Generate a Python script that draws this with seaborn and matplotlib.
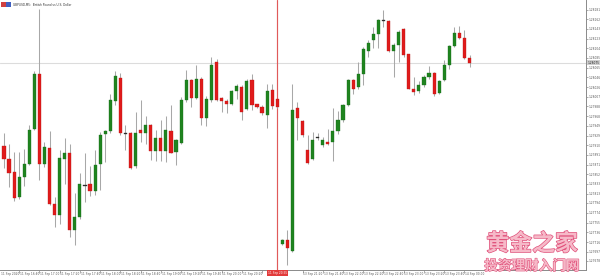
import numpy as np
import pandas as pd
import matplotlib
matplotlib.use("Agg")
import matplotlib.pyplot as plt
import matplotlib.patheffects as pe
from matplotlib.patches import Rectangle
import seaborn as sns

# ---------------- data (GBPUSD M5) ----------------
opens = [1.27908, 1.27883, 1.27855, 1.27807, 1.27847, 1.27872, 1.27942, 1.28053, 1.27873, 1.27905,
         1.27793, 1.27770, 1.27883, 1.27895, 1.27740, 1.27767, 1.27829, 1.27833, 1.27818, 1.27872,
         1.27932, 1.27938, 1.27999, 1.28045, 1.27934, 1.27933, 1.27868, 1.27940, 1.27935, 1.27951,
         1.27899, 1.27923, 1.27899, 1.27939, 1.27897, 1.27915, 1.28001, 1.28040, 1.28005, 1.28043,
         1.27965, 1.28000, 1.28075, 1.28005, 1.27997, 1.27992, 1.28019, 1.28027, 1.27982, 1.28040,
         1.27991, 1.27987, 1.27971, 1.28020, 1.28001,
         1.27713, 1.27721, 1.27698, 1.27985, 1.27958, 1.27900, 1.27882, 1.27925, 1.27911, 1.27917,
         1.27917, 1.27938, 1.27960, 1.27990, 1.28040, 1.28027, 1.28053, 1.28099, 1.28120, 1.28132,
         1.28160, 1.28159, 1.28099, 1.28111, 1.28142, 1.28092, 1.28023, 1.28018, 1.28030, 1.28047,
         1.28055, 1.28015, 1.28040, 1.28070, 1.28109, 1.28135, 1.28125, 1.28085]
highs = [1.27935, 1.27913, 1.27897, 1.27897, 1.27903, 1.27950, 1.28058, 1.28182, 1.27917, 1.27939,
         1.27807, 1.27900, 1.27925, 1.27912, 1.27815, 1.27855, 1.27895, 1.27869, 1.27900, 1.27937,
         1.27941, 1.28013, 1.28058, 1.28055, 1.27950, 1.27937, 1.27977, 1.28001, 1.27968, 1.27953,
         1.27940, 1.27960, 1.27968, 1.27990, 1.27923, 1.28007, 1.28060, 1.28043, 1.28070, 1.28047,
         1.28008, 1.28087, 1.28083, 1.28007, 1.28003, 1.28021, 1.28032, 1.28030, 1.28043, 1.28053,
         1.27993, 1.27990, 1.28033, 1.28033, 1.28003,
         1.27723, 1.27740, 1.28033, 1.27997, 1.27960, 1.27931, 1.27937, 1.27935, 1.27927, 1.27943,
         1.27985, 1.27978, 1.27993, 1.28043, 1.28043, 1.28077, 1.28107, 1.28120, 1.28147, 1.28163,
         1.28180, 1.28160, 1.28115, 1.28140, 1.28145, 1.28093, 1.28047, 1.28038, 1.28050, 1.28068,
         1.28057, 1.28040, 1.28080, 1.28111, 1.28147, 1.28149, 1.28140, 1.28090]
lows = [1.27865, 1.27827, 1.27799, 1.27803, 1.27828, 1.27870, 1.27940, 1.27841, 1.27867, 1.27790,
        1.27747, 1.27753, 1.27833, 1.27727, 1.27710, 1.27763, 1.27797, 1.27809, 1.27810, 1.27820,
        1.27877, 1.27935, 1.27990, 1.27930, 1.27900, 1.27863, 1.27865, 1.27917, 1.27913, 1.27880,
        1.27879, 1.27879, 1.27877, 1.27894, 1.27870, 1.27913, 1.27997, 1.27987, 1.28003, 1.27950,
        1.27948, 1.27997, 1.27999, 1.27977, 1.27975, 1.27990, 1.28003, 1.27960, 1.27980, 1.27980,
        1.27985, 1.27970, 1.27945, 1.27983, 1.27985,
        1.27710, 1.27671, 1.27697, 1.27920, 1.27927, 1.27873, 1.27880, 1.27920, 1.27907, 1.27911,
        1.27878, 1.27933, 1.27957, 1.27989, 1.28013, 1.28023, 1.28030, 1.28087, 1.28105, 1.28105,
        1.28147, 1.28097, 1.28047, 1.28077, 1.28087, 1.28022, 1.28010, 1.28015, 1.28027, 1.28043,
        1.28009, 1.28013, 1.28038, 1.28063, 1.28107, 1.28123, 1.28083, 1.28067]
closes = [1.27883, 1.27855, 1.27805, 1.27845, 1.27872, 1.27940, 1.28053, 1.27872, 1.27907, 1.27793,
          1.27770, 1.27885, 1.27895, 1.27740, 1.27767, 1.27833, 1.27828, 1.27819, 1.27870, 1.27930,
          1.27938, 1.28000, 1.28048, 1.27935, 1.27933, 1.27865, 1.27935, 1.27935, 1.27950, 1.27899,
          1.27923, 1.27899, 1.27940, 1.27895, 1.27920, 1.28000, 1.28040, 1.28005, 1.28042, 1.27965,
          1.28003, 1.28071, 1.28000, 1.27998, 1.27993, 1.28019, 1.28028, 1.27977, 1.28038, 1.27990,
          1.27987, 1.27975, 1.28018, 1.27988, 1.27987,
          1.27720, 1.27705, 1.27981, 1.27965, 1.27930, 1.27875, 1.27921, 1.27925, 1.27920, 1.27913,
          1.27938, 1.27960, 1.27990, 1.28040, 1.28023, 1.28053, 1.28103, 1.28115, 1.28132, 1.28160,
          1.28159, 1.28098, 1.28110, 1.28137, 1.28090, 1.28023, 1.28017, 1.28031, 1.28047, 1.28055,
          1.28013, 1.28038, 1.28071, 1.28109, 1.28135, 1.28125, 1.28085, 1.28075]

friday_start = "2020-09-11 16:25"
friday_bars = 55
sunday_start = "2020-09-13 21:00"

price_ticks = [1.28181, 1.28162, 1.28143, 1.28123, 1.28104, 1.28085, 1.28065, 1.28046, 1.28026,
               1.28007, 1.27988, 1.27968, 1.27949, 1.27929, 1.27910, 1.27891, 1.27871, 1.27852,
               1.27833, 1.27813, 1.27794, 1.27774, 1.27755, 1.27736, 1.27716, 1.27697, 1.27678]

title = "GBPUSD,M5:  British Pound vs U.S. Dollar"
marker_label = "11 Sep 20:55"
watermark1 = "黄金之家"
watermark2 = "投资理财入门网"

# ---------------- frame ----------------
n = len(opens)
times = list(pd.date_range(friday_start, periods=friday_bars, freq="5min")) + \
        list(pd.date_range(sunday_start, periods=n - friday_bars, freq="5min"))
df = pd.DataFrame({"t": times, "open": opens, "high": highs, "low": lows, "close": closes})
df["x"] = np.arange(n)

sns.set_theme(style="white")
plt.rcParams["font.family"] = ["DejaVu Sans", "Noto Sans CJK SC"]

W, H = 600, 277
fig = plt.figure(figsize=(W / 100, H / 100), dpi=100)
fig.patch.set_facecolor("white")
ax_l, ax_r, ax_top, ax_bot = 0, 586, 0, 270
ax = fig.add_axes([ax_l / W, 1 - ax_bot / H, (ax_r - ax_l) / W, (ax_bot - ax_top) / H])
ax.set_facecolor("white")

bar_px = 5.06
x0_px = 4
ax.set_xlim((ax_l - x0_px) / bar_px, (ax_r - x0_px) / bar_px)
ax.set_ylim(1.28200 - 0.00002 * ax_bot, 1.28200)

body = (df["close"] - df["open"]).abs()
doji = body < 0.000015
up = df["close"] >= df["open"]
colors = np.where(doji, "#2b2b2b", np.where(up, "#1f841f", "#e01b1b"))
edges = np.where(doji, "#2b2b2b", np.where(up, "#156a18", "#b81414"))

ax.vlines(df["x"], df["low"], df["high"], color="#a8a8a8", lw=0.75, zorder=1)
ax.bar(df["x"], np.maximum(body, 0.000014), bottom=np.minimum(df["open"], df["close"]),
       width=0.62, color=colors, edgecolor=edges, linewidth=0.25, zorder=2)

# current price line
last = df["close"].iloc[-1]
ax.axhline(last, color="#dcdcdc", lw=0.8, zorder=0)
# vertical marker line
mark_x = friday_bars - 1
ax.axvline(mark_x, color="#e05a5a", lw=0.85, zorder=0.5)

# axes styling
for s in ["left", "top"]:
    ax.spines[s].set_visible(False)
for s in ["right", "bottom"]:
    ax.spines[s].set_color("#8a8a8a")
    ax.spines[s].set_linewidth(0.7)

ax.yaxis.tick_right()
ax.set_yticks(price_ticks)
ax.set_yticklabels([f"{v:.5f}" for v in price_ticks])
ax.tick_params(axis="y", which="both", direction="out", length=1.5, width=0.5,
               colors="#8a8a8a", labelcolor="#555555", labelsize=2.1, pad=0.6, right=True)

# x axis labels every 4 bars (those hidden under the marker label are skipped)
lab_idx = list(range(3, n, 4))
ax.set_xticks(lab_idx)
ax.set_xticklabels([])
ax.tick_params(axis="x", direction="out", length=2, width=0.5, colors="#8a8a8a", bottom=True)
trans = ax.get_xaxis_transform()
for i in lab_idx:
    if abs(i - mark_x) <= 4 and i != mark_x:
        continue
    t = df["t"].iloc[i]
    ax.text(i + 0.15, -0.006, t.strftime("%d Sep %H:%M").lstrip("0"), transform=trans,
            ha="left", va="top", fontsize=2.1, color="#555555", clip_on=False)
ax.text(ax.get_xlim()[0] + 0.2, -0.006, df["t"].iloc[0].strftime("%d %b %Y"), transform=trans,
        ha="left", va="top", fontsize=2.1, color="#555555", clip_on=False)
ax.text(mark_x, -0.004, marker_label, transform=trans, ha="center", va="top",
        fontsize=2.1, color="white", clip_on=False, zorder=5,
        bbox=dict(boxstyle="square,pad=0.4", fc="#e23a3a", ec="none"))

# current price label on the axis
ax.text(1.0025, last, f"{last:.5f}", transform=ax.get_yaxis_transform(), ha="left", va="center",
        fontsize=2.1, color="#222222", clip_on=False, zorder=5,
        bbox=dict(boxstyle="square,pad=0.2", fc="#cfcfcf", ec="none"))

# title with small icon
fig.patches.append(Rectangle((1 / W, 1 - 7 / H), 5 / W, 5 / H, transform=fig.transFigure,
                             fc="#d04040", ec="none"))
fig.patches.append(Rectangle((6 / W, 1 - 7 / H), 5 / W, 5 / H, transform=fig.transFigure,
                             fc="#4060c0", ec="none"))
fig.text(13 / W, 1 - 4.5 / H, title, fontsize=2.1, color="#333333", ha="left", va="center")

# watermark
fx = 532 / W
fig.text(fx, 1 - 244 / H, watermark1, fontsize=16.5, family=["Noto Sans CJK SC"], weight="bold",
         color="#f6b9c8", ha="center", va="center",
         path_effects=[pe.withStroke(linewidth=1.0, foreground="#e0507a")])
fig.text(fx, 1 - 266 / H, watermark2, fontsize=9.8, family=["Noto Sans CJK SC"], weight="bold",
         color="#f6b9c8", ha="center", va="center",
         path_effects=[pe.withStroke(linewidth=0.8, foreground="#e0507a")])

fig.savefig("out.png", dpi=100, facecolor="white")
